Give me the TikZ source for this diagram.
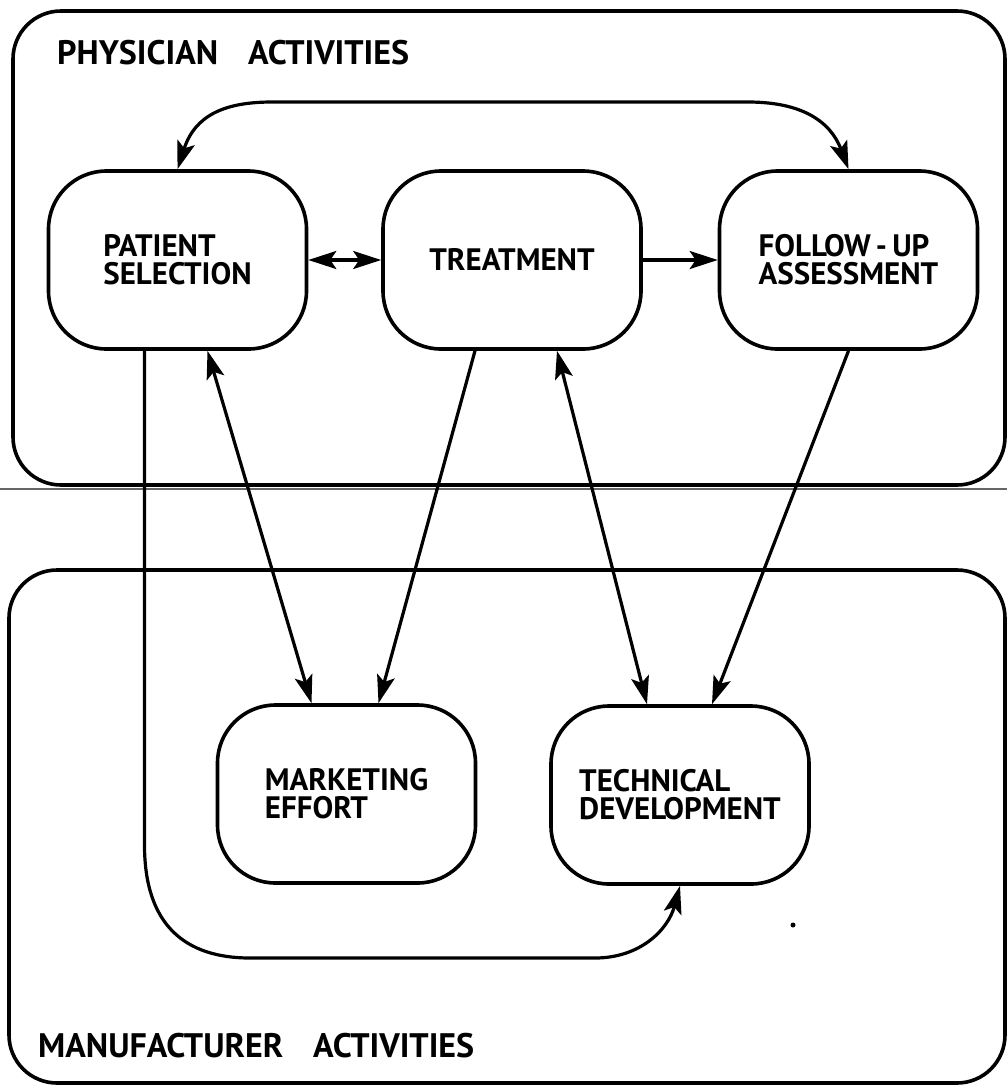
\documentclass[tikz,border=0pt]{standalone}
\usepackage{fontspec}
\setmainfont{PT Sans}
\usetikzlibrary{arrows.meta,calc}
\begin{document}
\begin{tikzpicture}[x=1pt,y=-1pt,
  activity/.style={draw, line width=3.6pt, rounded corners=58pt,
    minimum width=258pt, minimum height=178pt, align=left, inner sep=0pt,
    font=\fontsize{31}{28}\selectfont\bfseries},
  link/.style={line width=3.2pt},
  oneway/.style={-{Stealth[length=28pt,width=18pt,inset=6pt]}},
  twoway/.style={{Stealth[length=28pt,width=18pt,inset=6pt]}-{Stealth[length=28pt,width=18pt,inset=6pt]}},
  frame/.style={line width=3.6pt, rounded corners=48pt},
  heading/.style={anchor=base west, inner sep=0pt, font=\fontsize{34}{34}\selectfont\bfseries}]

\useasboundingbox (0,0) rectangle (1007,1085);

% the two areas of activity
\draw[frame] (13,11) rectangle (1005,485);
\draw[frame] (9,570) rectangle (1005,1083);
\draw[line width=1.4pt, black!60] (0,489) -- (1007,489);

\node[heading] (phys) at (57,64) {PHYSICIAN\hspace{30pt}ACTIVITIES};
\node[heading] (manu) at (38,1057) {MANUFACTURER\hspace{30pt}ACTIVITIES};

% activities
\node[activity] (ps) at (177.5,260) {PATIENT\\SELECTION};
\node[activity] (tr) at (512,260) {TREATMENT};
\node[activity] (fu) at (848.5,260) {FOLLOW\,-\,UP\\ASSESSMENT};
\node[activity] (me) at (346.5,794) {MARKETING\\EFFORT};
\node[activity] (td) at (680,795) {TECHNICAL\\DEVELOPMENT};

% connections
\draw[link,twoway] (ps.north) .. controls (195,115) and (225,102) .. (272,102)
  -- (748,102) .. controls (800,102) and (830,120) .. (fu.north);
\draw[link,twoway] (ps.east) -- (tr.west);
\draw[link,oneway] (tr.east) -- (fu.west);
\draw[link,oneway] ([xshift=-33pt]ps.south) -- (144.5,845)
  .. controls (144.5,925) and (185,958) .. (250,958) -- (595,958)
  .. controls (640,958) and (668,930) .. (td.south);
\draw[link,twoway] ([xshift=30pt]ps.south) -- ([xshift=-35pt]me.north);
\draw[link,oneway] ([xshift=-37pt]tr.south) -- ([xshift=32pt]me.north);
\draw[link,twoway] ([xshift=45pt]tr.south) -- ([xshift=-33pt]td.north);
\draw[link,oneway] (fu.south) -- ([xshift=32pt]td.north);

\fill (793,925) circle (2.5pt);
\end{tikzpicture}
\end{document}
